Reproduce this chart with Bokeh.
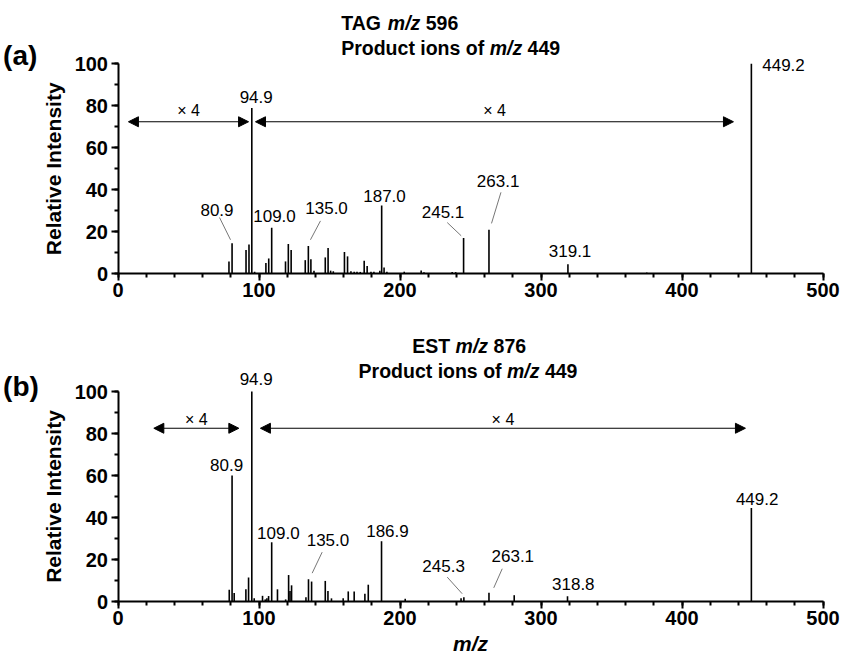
import math
from bokeh.plotting import figure
from bokeh.models import (Range1d, SingleIntervalTicker, Label, Arrow, NormalHead,
                          LinearAxis)
from bokeh.layouts import column
from bokeh.embed import file_html
from bokeh.resources import INLINE

# ---------------- data ----------------
tag_mz = [78.7, 80.9, 90.8, 92.9, 94.9, 96.9, 104.9, 106.9, 109.0, 118.8, 120.8,
          122.8, 132.8, 135.0, 136.8, 139.0, 147.0, 149.0, 150.8, 152.7, 160.6,
          162.8, 165.2, 167.5, 169.5, 171.8, 174.6, 176.7, 179.4, 181.5, 185.7,
          187.0, 188.7, 190.7, 203.0, 215.0, 217.0, 237.0, 239.5, 245.1, 263.1,
          319.1, 375.0, 449.2]
tag_int = [5.9, 14.5, 11.3, 13.9, 79.0, 1.0, 5.1, 7.3, 21.9, 5.9, 14.2,
           11.3, 6.5, 13.2, 6.9, 1.5, 7.8, 12.3, 1.5, 1.2, 10.4,
           8.3, 1.2, 1.0, 1.0, 0.9, 6.2, 3.7, 1.0, 1.0, 1.5,
           32.5, 3.0, 1.0, 1.0, 1.6, 0.7, 0.8, 0.8, 17.0, 21.0,
           4.6, 0.6, 100.0]

est_mz = [78.9, 80.9, 82.4, 90.7, 92.6, 94.9, 96.6, 102.5, 104.4, 105.6, 106.8,
          109.0, 113.1, 118.9, 121.0, 122.0, 123.1, 133.3, 135.1, 137.3, 147.0,
          148.9, 151.4, 159.7, 163.3, 167.5, 175.1, 177.5, 186.9, 203.7, 243.3,
          245.3, 263.1, 281.0, 318.8, 449.2]
est_int = [5.6, 60.0, 4.0, 5.8, 11.4, 100.0, 1.5, 2.7, 1.0, 1.5, 2.6,
           28.2, 5.8, 1.0, 12.6, 5.0, 7.7, 2.0, 10.6, 9.5, 9.8,
           5.0, 1.5, 1.5, 4.8, 4.8, 3.7, 8.0, 28.7, 1.3, 1.5,
           2.0, 4.2, 3.0, 2.5, 44.5]

tag_peak_labels = ["80.9", "94.9", "109.0", "135.0", "187.0", "245.1", "263.1", "319.1", "449.2"]
est_peak_labels = ["80.9", "94.9", "109.0", "135.0", "186.9", "245.3", "263.1", "318.8", "449.2"]

# scaled regions (x4): m/z start, end
tag_scaled = [(7.4, 92.6), (97.5, 436.5)]
est_scaled = [(25.4, 85.7), (101.0, 445.0)]
scale_text = "\u00d7 4"

x_tick_step = 100
y_tick_step = 20
x_max = 500
y_max = 100

# ---------------- layout / annotation positions ----------------
tag_label_pos = [(70.2, 30.2), (98.0, 84.0), (111.0, 27.4), (147.9, 31.2), (189.0, 37.1),
                 (230.5, 29.5), (269.6, 44.4), (320.6, 11.0), (472.0, 99.5)]
est_label_pos = [(77.0, 65.2), (98.0, 106.0), (113.7, 32.4), (148.9, 29.5), (191.1, 33.8),
                 (230.9, 16.7), (280.0, 21.6), (322.9, 8.4), (453.3, 48.6)]
tag_leaders = [(72.0, 26.8, 79.8, 16.2), (143.6, 25.2, 136.5, 16.2),
               (233.5, 24.4, 243.4, 18.1), (271.6, 38.8, 264.9, 24.0)]
est_leaders = [(144.8, 23.5, 137.7, 13.5), (233.5, 11.6, 244.1, 3.7),
               (272.5, 15.6, 266.5, 6.5)]
tag_arrow_y, tag_scale_text_y = 72.4, 77.6
est_arrow_y, est_scale_text_y = 82.5, 86.7

FONT = "Liberation Sans"
TITLE_SIZE = 19.5
W_BOLD = {' ': 278, 'T': 611, 'A': 722, 'G': 778, 'E': 667, 'S': 667, 'm': 889, '/': 278,
          'z': 500, 'P': 667, 'r': 389, 'o': 611, 'd': 611, 'u': 611, 'c': 556, 't': 333,
          'i': 278, 'n': 611, 's': 556, 'f': 333}

# pixel geometry (canvas = page, no body margin)
PX_LEFT = 117.5          # x = 0
PX_PER_MZ = 1.41
PX_PER_INT = 2.1
CANVAS_W = 840


def text_w(s, size):
    return sum(W_BOLD.get(ch, 556) for ch in s) / 1000.0 * size


def title_line(p, x, y, before, num, size=TITLE_SIZE):
    common = dict(text_font=FONT, text_font_size=f"{size}px", text_align="left",
                  text_baseline="middle", text_color="black")
    p.add_layout(Label(x=x, y=y, text=before.strip(), text_font_style="bold", **common))
    off = text_w(before, size)
    p.add_layout(Label(x=x, y=y, x_offset=off, text="m/z", text_font_style="bold italic", **common))
    off += text_w("m/z ", size)
    p.add_layout(Label(x=x, y=y, x_offset=off, text=num, text_font_style="bold", **common))


def make_panel(height, px_top100, mz, inten, labels, label_pos, leaders, scaled,
               arrow_y, scale_y):
    x0 = -PX_LEFT / PX_PER_MZ
    x1 = (CANVAS_W - PX_LEFT) / PX_PER_MZ
    y1 = y_max + px_top100 / PX_PER_INT
    y0 = y1 - height / PX_PER_INT
    p = figure(width=CANVAS_W, height=height, output_backend="svg", toolbar_location=None,
               x_range=Range1d(x0, x1), y_range=Range1d(y0, y1),
               x_axis_type=None, y_axis_type=None,
               min_border=0, min_border_left=0, min_border_right=0,
               min_border_top=0, min_border_bottom=0)
    p.outline_line_color = None
    p.grid.visible = False
    p.background_fill_color = "white"
    p.border_fill_color = "white"

    xaxis = LinearAxis(fixed_location=0, bounds=(0, x_max),
                       ticker=SingleIntervalTicker(interval=x_tick_step, num_minor_ticks=5))
    yaxis = LinearAxis(fixed_location=0, bounds=(0, y_max),
                       ticker=SingleIntervalTicker(interval=y_tick_step, num_minor_ticks=2))
    for ax in (xaxis, yaxis):
        ax.axis_line_width = 2
        ax.axis_line_color = "black"
        ax.major_tick_line_width = 2
        ax.major_tick_line_color = "black"
        ax.minor_tick_line_width = 2
        ax.minor_tick_line_color = "black"
        ax.major_tick_in = 0
        ax.major_tick_out = 7
        ax.minor_tick_in = 0
        ax.minor_tick_out = 4
        ax.major_label_text_font = FONT
        ax.major_label_text_font_style = "bold"
        ax.major_label_text_font_size = "20px"
        ax.major_label_text_color = "black"
    xaxis.major_label_standoff = 2
    yaxis.major_label_standoff = 3
    p.add_layout(xaxis, "below")
    p.add_layout(yaxis, "left")

    # y-axis title
    p.add_layout(Label(x=(53 - PX_LEFT) / PX_PER_MZ, y=y_max / 2, text="Relative Intensity",
                       angle=math.pi / 2, text_font=FONT, text_font_size="21px",
                       text_font_style="bold", text_align="center", text_baseline="middle",
                       text_color="black"))

    # peaks
    p.segment(x0=mz, y0=[0] * len(mz), x1=mz, y1=inten, line_color="black", line_width=1.6)

    # leader lines
    p.segment(x0=[l[0] for l in leaders], y0=[l[1] for l in leaders],
              x1=[l[2] for l in leaders], y1=[l[3] for l in leaders],
              line_color="#777777", line_width=1)

    # peak labels
    for txt, (lx, ly) in zip(labels, label_pos):
        p.add_layout(Label(x=lx, y=ly, text=txt, text_font=FONT, text_font_size="17px",
                           text_align="center", text_baseline="middle", text_color="black"))

    # x4 arrows
    for (xs, xe) in scaled:
        p.add_layout(Arrow(start=NormalHead(size=10, fill_color="black", line_color="black"),
                           end=NormalHead(size=10, fill_color="black", line_color="black"),
                           x_start=xs, y_start=arrow_y, x_end=xe, y_end=arrow_y,
                           line_color="black", line_width=1.2))
        p.add_layout(Label(x=(xs + xe) / 2, y=scale_y, text=scale_text, text_font=FONT,
                           text_font_size="16px", text_align="center", text_baseline="middle",
                           text_color="black"))
    return p


p1 = make_panel(318, 63.3, tag_mz, tag_int, tag_peak_labels, tag_label_pos, tag_leaders,
                tag_scaled, tag_arrow_y, tag_scale_text_y)
p2 = make_panel(337, 391 - 318, est_mz, est_int, est_peak_labels, est_label_pos, est_leaders,
                est_scaled, est_arrow_y, est_scale_text_y)

# titles
title_line(p1, 158.3, 119.3, "TAG ", "596")
title_line(p1, 158.3, 107.4, "Product ions of ", "449")
title_line(p2, 208.7, 121.7, "EST ", "876")
title_line(p2, 170.6, 110.0, "Product ions of ", "449")

# panel letters
p1.add_layout(Label(x=-81.5, y=103.8, text="(a)", text_font=FONT, text_font_size="28px",
                    text_font_style="bold", text_align="left", text_baseline="middle",
                    text_color="black"))
p2.add_layout(Label(x=-81.5, y=102.4, text="(b)", text_font=FONT, text_font_size="28px",
                    text_font_style="bold", text_align="left", text_baseline="middle",
                    text_color="black"))

# x-axis title (bold italic m/z)
p2.add_layout(Label(x=x_max / 2, y=-20.0, text="m/z", text_font=FONT, text_font_size="21px",
                    text_font_style="bold italic", text_align="center", text_baseline="middle",
                    text_color="black"))

layout = column(p1, p2)
open("out.html", "w").write(file_html(layout, INLINE))
